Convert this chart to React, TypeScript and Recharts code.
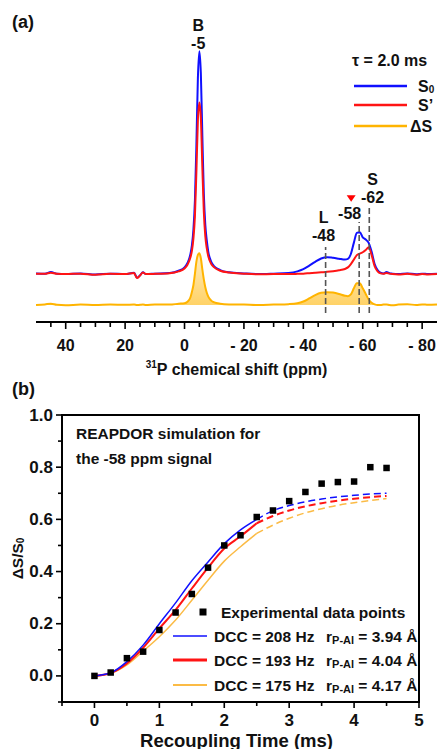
import React from "react";
import {
    ComposedChart,
    Line,
    Area,
    Scatter,
    XAxis,
    YAxis,
    ReferenceLine,
    ReferenceDot,
    ReferenceArea,
    Legend,
} from "recharts";

const FONT = "'Liberation Sans', Arial, Helvetica, sans-serif";

// ---- (a) 31P spectra at tau = 2.0 ms (intensity scaled so that S0 at -5 ppm = 100)
const ppm = [
    50, 47, 45, 43, 40, 35, 30, 25, 20, 17, 16, 15, 14, 13, 10, 5, 2, 0, -1, -2,
    -2.5, -3, -3.5, -4, -4.5, -5, -5.5, -6, -6.5, -7, -7.5, -8, -9, -10, -12, -15, -20, -25, -30, -35,
    -38, -40, -42, -44, -46, -48, -50, -52, -54, -55, -56, -57, -58, -59, -60, -61, -62, -63, -64, -65,
    -66, -67, -68, -69, -70, -72, -75, -78, -80, -82, -85,
];
const s0 = [
    0.3, 0.2, 0.9, 0.2, 0, 0.3, -0.2, 0.2, 0, 0.6, -1.6, -0.6, 0.8, 0, 0.2, 0.5, 1.5, 3, 5, 9,
    13, 20, 33, 58, 88, 100, 90, 62, 36, 22, 15, 10, 5.5, 3.5, 1.8, 0.8, 0.3, 0, 0.2, 0.5,
    1.2, 2.2, 3.8, 5.5, 7, 7.6, 7.3, 6.9, 6.5, 6.8, 9, 14, 18.5, 18.8, 16.5, 15.5, 14, 10, 4.5, 1.8,
    0.6, 0.3, 0.9, 0.4, 0.2, 0, 0.3, -0.1, 0.2, 0, 0.2,
];
const sPrime = [
    0.2, 0.1, 0.6, 0.1, 0, 0.2, -0.3, 0.1, 0, 0.5, -1.8, -0.7, 0.7, 0, 0.1, 0.4, 1.2, 2.5, 4.2, 7.5,
    10.5, 16, 26, 46, 69, 77, 70, 48, 28, 17, 11.5, 8, 4.5, 3, 1.5, 0.7, 0.2, -0.1, 0, 0,
    0.1, 0.2, 0.4, 0.6, 0.8, 1.0, 1.3, 1.7, 2.3, 3, 4.5, 6.5, 8.5, 9.2, 9.8, 10.8, 12, 8.5, 3.5, 1.2,
    0.3, 0.1, 0.5, 0.2, 0, -0.2, 0.1, -0.3, 0, -0.2, 0,
];
const deltaS = [
    0, 0.3, 0.6, 0.1, -0.1, 0.2, 0, 0.2, 0.1, 0.2, 0, 0.1, 0.2, 0, 0.3, 0.2, 0.6, 0.8, 1.5, 3.5,
    6, 9, 14, 19.5, 22.5, 23.3, 21, 16, 11.5, 8, 5.5, 3.8, 2, 1.2, 0.6, 0.3, 0.2, 0, 0.2, 0.4,
    0.8, 1.6, 3, 4.5, 5.5, 5.8, 5.6, 5, 4.2, 4, 4.8, 7.5, 9.8, 9.8, 7.5, 5, 2.5, 1, 0.3, 0,
    0, 0.2, 0.3, 0, -0.1, 0.2, 0.4, 0, 0.3, 0.1, 0.3,
];
const ppmTicks = [45, 40, 35, 30, 25, 20, 15, 10, 5, 0, -5, -10, -15, -20, -25, -30, -35, -40, -45, -50, -55, -60, -65, -70, -75, -80];

// ---- (b) REAPDOR curve for the -58 ppm signal
const recoupTime = [0, 0.25, 0.5, 0.75, 1, 1.25, 1.5, 1.75, 2, 2.25, 2.5, 2.75, 3, 3.25, 3.5, 3.75, 4, 4.25, 4.5];
const expPoints = [0, 0.013, 0.068, 0.093, 0.176, 0.243, 0.314, 0.415, 0.5, 0.539, 0.609, 0.634, 0.67, 0.705, 0.737, 0.743, 0.745, 0.8, 0.797];
const sim208 = [0, 0.012, 0.055, 0.118, 0.2, 0.28, 0.365, 0.437, 0.507, 0.56, 0.6, 0.633, 0.653, 0.667, 0.678, 0.686, 0.692, 0.697, 0.7];
const sim193 = [0, 0.011, 0.048, 0.108, 0.182, 0.253, 0.335, 0.415, 0.488, 0.535, 0.585, 0.613, 0.634, 0.65, 0.662, 0.672, 0.679, 0.685, 0.69];
const sim175 = [0, 0.01, 0.042, 0.095, 0.15, 0.214, 0.29, 0.367, 0.44, 0.495, 0.546, 0.578, 0.604, 0.625, 0.641, 0.654, 0.664, 0.672, 0.68];
const timeTicks = [-0.5, 0, 0.5, 1, 1.5, 2, 2.5, 3, 3.5, 4, 4.5, 5];
const ratioTicks = [-0.1, 0, 0.1, 0.2, 0.3, 0.4, 0.5, 0.6, 0.7, 0.8, 0.9, 1.0];

const SOLID_END = 10; // simulations drawn solid up to 2.5 ms, dashed after

const BLUE = "#1010ff";
const RED = "#ff1414";
const GOLD = "#ffb400";
const GOLD_B = "#fbbb45";

const specData = ppm.map((p, i) => ({ ppm: p, s0: s0[i], sp: sPrime[i], ds: deltaS[i] }));

const curveData = recoupTime.map((t, i) => ({
    t,
    exp: expPoints[i],
    s208: i <= SOLID_END ? sim208[i] : null,
    d208: i >= SOLID_END ? sim208[i] : null,
    s193: i <= SOLID_END ? sim193[i] : null,
    d193: i >= SOLID_END ? sim193[i] : null,
    s175: i <= SOLID_END ? sim175[i] : null,
    d175: i >= SOLID_END ? sim175[i] : null,
}));

const txt = { fontFamily: FONT, fontWeight: 700, fill: "#111" } as const;

const PpmTick = ({ x, y, payload }: any) => {
    const v = payload.value;
    const major = v % 20 === 0;
    const label = v < 0 ? `- ${-v}` : `${v}`;
    return (
        <g>
            <line x1={x} x2={x} y1={y} y2={y + (major ? 7 : 5)} stroke="#000" strokeWidth={1.6} />
            {major && (
                <text x={x} y={y + 23} textAnchor="middle" dominantBaseline="central" fontSize={16} {...txt}>
                    {label}
                </text>
            )}
        </g>
    );
};

const PpmAxisLabel = ({ viewBox }: any) => (
    <text x={viewBox.x + viewBox.width / 2} y={viewBox.y + 47} textAnchor="middle" dominantBaseline="central" fontSize={16} {...txt}>
        <tspan fontSize={10} dy={-5}>31</tspan>
        <tspan dy={5}>P chemical shift (ppm)</tspan>
    </text>
);

const PeakNote = ({ viewBox, lines }: any) => {
    const cx = viewBox.x + viewBox.width / 2;
    const cy = viewBox.y + viewBox.height / 2;
    return (
        <text textAnchor="middle" dominantBaseline="central" fontSize={16} {...txt}>
            {lines.map((l: string, i: number) => (
                <tspan key={i} x={cx} y={cy + i * 18}>{l}</tspan>
            ))}
        </text>
    );
};

const Triangle = ({ cx, cy }: any) => (
    <polygon points={`${cx - 4.5},${cy - 3} ${cx + 4.5},${cy - 3} ${cx},${cy + 3.5}`} fill="#ff0000" />
);

const TauLegend = () => (
    <svg width={92} height={90} style={{ display: "block", overflow: "visible" }}>
        <text x={4} y={12} dominantBaseline="central" fontSize={16} {...txt}>τ = 2.0 ms</text>
        <line x1={6} x2={59} y1={38} y2={38} stroke={BLUE} strokeWidth={2.5} />
        <text x={70} y={38} dominantBaseline="central" fontSize={16} {...txt}>
            S<tspan fontSize={10} dy={3}>0</tspan>
        </text>
        <line x1={6} x2={59} y1={57} y2={57} stroke={RED} strokeWidth={2.5} />
        <text x={70} y={57} dominantBaseline="central" fontSize={16} {...txt}>S’</text>
        <line x1={6} x2={59} y1={78} y2={78} stroke={GOLD} strokeWidth={2.5} />
        <text x={62} y={78} dominantBaseline="central" fontSize={16} {...txt}>ΔS</text>
    </svg>
);

const TimeTick = ({ x, y, payload }: any) => {
    const v = payload.value;
    const major = Number.isInteger(v);
    return (
        <g>
            <line x1={x} x2={x} y1={y} y2={y + (major ? 6 : 4)} stroke="#000" strokeWidth={1.6} />
            {major && (
                <text x={x} y={y + 18} textAnchor="middle" dominantBaseline="central" fontSize={17} {...txt}>
                    {v}
                </text>
            )}
        </g>
    );
};

const RatioTick = ({ x, y, payload }: any) => {
    const v = payload.value;
    const major = v >= 0 && Math.round(v * 10) % 2 === 0;
    return (
        <g>
            <line x1={x} x2={x - (major ? 6 : 4)} y1={y} y2={y} stroke="#000" strokeWidth={1.6} />
            {major && (
                <text x={x - 9} y={y} textAnchor="end" dominantBaseline="central" fontSize={17} {...txt}>
                    {v.toFixed(1)}
                </text>
            )}
        </g>
    );
};

const TimeAxisLabel = ({ viewBox }: any) => (
    <text x={viewBox.x + viewBox.width / 2 - 4} y={viewBox.y + 38} textAnchor="middle" dominantBaseline="central" fontSize={18.5} {...txt}>
        Recoupling Time (ms)
    </text>
);

const RatioAxisLabel = ({ viewBox }: any) => {
    const x = viewBox.x + 5;
    const y = viewBox.y + viewBox.height / 2;
    return (
        <text x={x} y={y} transform={`rotate(-90, ${x}, ${y})`} textAnchor="middle" dominantBaseline="central" fontSize={15.5} {...txt}>
            ΔS/S<tspan fontSize={10} dy={3}>0</tspan>
        </text>
    );
};

const ReapdorLegend = () => (
    <svg width={360} height={280} style={{ display: "block", overflow: "visible" }}>
        <text x={16} y={13} dominantBaseline="central" fontSize={15.5} {...txt}>REAPDOR simulation for</text>
        <text x={16} y={38} dominantBaseline="central" fontSize={15.5} {...txt}>the -58 ppm signal</text>

        <rect x={139.5} y={188.5} width={7} height={7} fill="#000" />
        <text x={161} y={192} dominantBaseline="central" fontSize={15.5} {...txt}>Experimental data points</text>

        {[
            { y: 216, color: BLUE, w: 1.6, dcc: "208", r: "3.94" },
            { y: 240, color: RED, w: 3, dcc: "193", r: "4.04" },
            { y: 265, color: GOLD_B, w: 2, dcc: "175", r: "4.17" },
        ].map((row) => (
            <g key={row.dcc}>
                <line x1={113} x2={147} y1={row.y} y2={row.y} stroke={row.color} strokeWidth={row.w} />
                <text x={154} y={row.y} dominantBaseline="central" fontSize={15.5} {...txt}>DCC = {row.dcc} Hz</text>
                <text x={266} y={row.y} dominantBaseline="central" fontSize={15.5} {...txt}>
                    r<tspan fontSize={11} dy={4}>P-Al</tspan>
                    <tspan dy={-4}> = {row.r} Å</tspan>
                </text>
            </g>
        ))}
    </svg>
);

export default function App() {
    return (
        <div style={{ position: "absolute", left: 0, top: 0, width: 437, height: 749, background: "#fff", fontFamily: FONT }}>
            <div style={{ position: "absolute", left: 12, top: 12, fontSize: 18, fontWeight: 700, color: "#111" }}>(a)</div>
            <div style={{ position: "absolute", left: 12, top: 379, fontSize: 18, fontWeight: 700, color: "#111" }}>(b)</div>

            <div style={{ position: "absolute", left: 0, top: 0 }}>
                <ComposedChart width={437} height={380} data={specData} margin={{ top: 20, right: 0, bottom: 18, left: 36 }}>
                    <defs>
                        <linearGradient id="dsFill" x1="0" y1="0" x2="0" y2="1">
                            <stop offset="0%" stopColor={GOLD} stopOpacity={0.25} />
                            <stop offset="100%" stopColor={GOLD} stopOpacity={0.6} />
                        </linearGradient>
                    </defs>
                    <XAxis
                        type="number"
                        dataKey="ppm"
                        domain={[-85, 50]}
                        reversed
                        allowDataOverflow
                        ticks={ppmTicks}
                        interval={0}
                        height={40}
                        axisLine={{ stroke: "#000", strokeWidth: 2 }}
                        tickLine={false}
                        tickSize={0}
                        tickMargin={0}
                        tick={<PpmTick />}
                        label={<PpmAxisLabel />}
                    />
                    <YAxis yAxisId="main" hide domain={[-21.5, 114]} allowDataOverflow />
                    <YAxis yAxisId="diff" hide domain={[-7.6, 127.9]} allowDataOverflow />
                    <Line yAxisId="main" type="monotone" dataKey="s0" stroke={BLUE} strokeWidth={2} dot={false} isAnimationActive={false} />
                    <Line yAxisId="main" type="monotone" dataKey="sp" stroke={RED} strokeWidth={2} dot={false} isAnimationActive={false} />
                    <Area
                        yAxisId="diff"
                        type="monotone"
                        dataKey="ds"
                        baseValue={0}
                        stroke={GOLD}
                        strokeWidth={2}
                        fill="url(#dsFill)"
                        fillOpacity={1}
                        dot={false}
                        isAnimationActive={false}
                    />
                    {[
                        { x: -47.5, top: 12.1 },
                        { x: -58.8, top: 23.4 },
                        { x: -62.2, top: 30.1 },
                    ].map((m) => (
                        <ReferenceLine
                            key={m.x}
                            yAxisId="main"
                            segment={[{ x: m.x, y: -17.5 }, { x: m.x, y: m.top }]}
                            stroke="#555"
                            strokeWidth={1.6}
                            strokeDasharray="6 3"
                        />
                    ))}
                    <ReferenceDot yAxisId="main" x={-4.6} y={111.8} r={1} fill="none" stroke="none" label={<PeakNote lines={["B", "-5"]} />} />
                    <ReferenceDot yAxisId="main" x={-46.8} y={25.7} r={1} fill="none" stroke="none" label={<PeakNote lines={["L", "-48"]} />} />
                    <ReferenceDot yAxisId="main" x={-55.6} y={27.3} r={1} fill="none" stroke="none" label={<PeakNote lines={["-58"]} />} />
                    <ReferenceDot yAxisId="main" x={-63.3} y={42.5} r={1} fill="none" stroke="none" label={<PeakNote lines={["S", "-62"]} />} />
                    <ReferenceDot yAxisId="main" x={-56.1} y={34} r={4} shape={<Triangle />} />
                    <Legend
                        layout="horizontal"
                        verticalAlign="middle"
                        align="center"
                        content={() => <TauLegend />}
                        wrapperStyle={{ top: 48, left: 348, width: 92, height: 90 }}
                    />
                </ComposedChart>
            </div>

            <div style={{ position: "absolute", left: 0, top: 380 }}>
                <ComposedChart width={437} height={369} data={curveData} margin={{ top: 35, right: 18, bottom: 7, left: 12 }}>
                    <XAxis
                        type="number"
                        dataKey="t"
                        domain={[-0.5, 5]}
                        ticks={timeTicks}
                        interval={0}
                        height={40}
                        axisLine={{ stroke: "#000", strokeWidth: 2 }}
                        tickLine={false}
                        tickSize={0}
                        tickMargin={0}
                        tick={<TimeTick />}
                        label={<TimeAxisLabel />}
                    />
                    <YAxis
                        type="number"
                        domain={[-0.1, 1]}
                        ticks={ratioTicks}
                        interval={0}
                        width={50}
                        axisLine={{ stroke: "#000", strokeWidth: 2 }}
                        tickLine={false}
                        tickSize={0}
                        tickMargin={0}
                        tick={<RatioTick />}
                        label={<RatioAxisLabel />}
                    />
                    <ReferenceArea x1={-0.5} x2={5} y1={-0.1} y2={1} fill="none" stroke="#000" strokeWidth={2} />
                    <Line type="monotone" dataKey="s175" stroke={GOLD_B} strokeWidth={1.5} dot={false} isAnimationActive={false} />
                    <Line type="monotone" dataKey="d175" stroke={GOLD_B} strokeWidth={1.5} strokeDasharray="7 4" dot={false} isAnimationActive={false} />
                    <Line type="monotone" dataKey="s193" stroke={RED} strokeWidth={2} dot={false} isAnimationActive={false} />
                    <Line type="monotone" dataKey="d193" stroke={RED} strokeWidth={2} strokeDasharray="7 4" dot={false} isAnimationActive={false} />
                    <Line type="monotone" dataKey="s208" stroke={BLUE} strokeWidth={1.5} dot={false} isAnimationActive={false} />
                    <Line type="monotone" dataKey="d208" stroke={BLUE} strokeWidth={1.5} strokeDasharray="7 4" dot={false} isAnimationActive={false} />
                    <Scatter
                        dataKey="exp"
                        isAnimationActive={false}
                        shape={(p: any) => <rect x={p.cx - 3.25} y={p.cy - 3.25} width={6.5} height={6.5} fill="#000" />}
                    />
                    <Legend
                        layout="horizontal"
                        verticalAlign="middle"
                        align="center"
                        content={() => <ReapdorLegend />}
                        wrapperStyle={{ top: 40, left: 60, width: 360, height: 280 }}
                    />
                </ComposedChart>
            </div>
        </div>
    );
}
